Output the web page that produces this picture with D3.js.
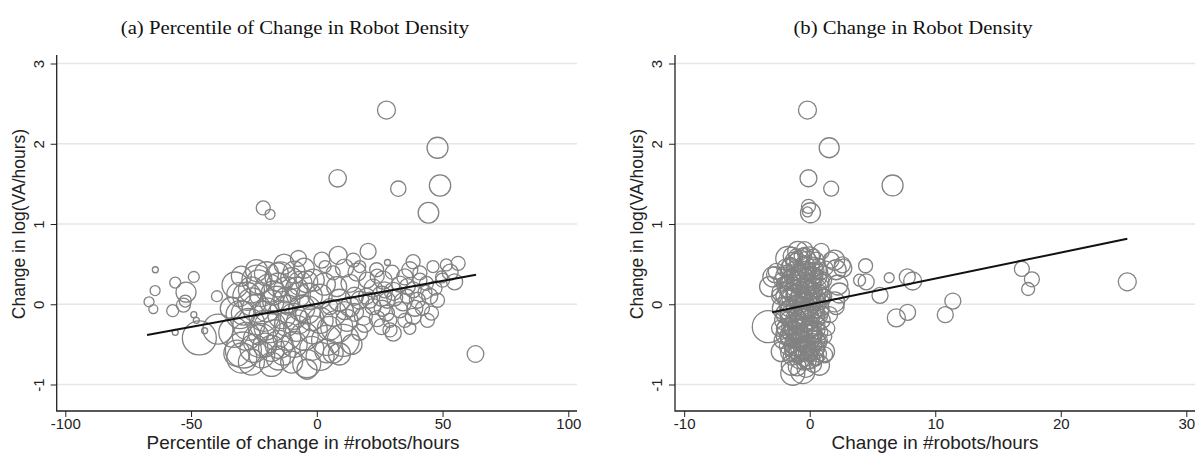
<!DOCTYPE html>
<html>
<head>
<meta charset="utf-8">
<script src="https://cdn.jsdelivr.net/npm/d3@7"></script>
<style>
  body { margin: 0; background: #fff; }
  svg { display: block; }
</style>
</head>
<body>
<svg id="chart" width="1195" height="453"></svg>
<script>
// tick values
const yTicks = [-1, 0, 1, 2, 3];
const xTicksA = [-100, -50, 0, 50, 100];
const xTicksB = [-10, 0, 10, 20, 30];

const titles = ['(a) Percentile of Change in Robot Density', '(b) Change in Robot Density'];
const xTitles = ['Percentile of change in #robots/hours', 'Change in #robots/hours'];
const yTitle = 'Change in log(VA/hours)';

// panel (a): [percentile of change, change in log(VA/hours), weight]
const pointsA = [
  [27.7, 2.42, 81], [48.0, 1.95, 110], [8.3, 1.57, 76], [32.4, 1.44, 59], [49.0, 1.48, 114],
  [44.4, 1.14, 106], [-21.3, 1.20, 49], [-18.6, 1.12, 25], [28.1, 0.52, 9], [63.1, -0.62, 69],
  [-3.9, -0.81, 100],
  [-64.2, 0.43, 9], [-64.3, 0.17, 25], [-66.7, 0.03, 25], [-65, -0.06, 20], [-56.3, 0.27, 30],
  [-48.9, 0.34, 30], [-52, 0.15, 100], [-52.3, 0.04, 36], [-53, -0.01, 49], [-57.3, -0.08, 36],
  [-48.9, -0.13, 9], [-47.9, -0.2, 9], [-56.3, -0.35, 9], [-44.6, -0.33, 9], [-46.7, -0.42, 289],
  [-39.7, 0.1, 30], [-39.3, -0.31, 225],
  [-32.5, 0.24, 169], [-30.5, -0.13, 196], [-29.2, -0.57, 324], [-23.2, 0.28, 144], [-15.3, 0.24, 144],
  [-15.3, 0.39, 100], [-10, 0.32, 121], [-7.3, 0.12, 144], [-20.6, -0.26, 225], [-16.6, -0.38, 225],
  [-20.6, -0.51, 144], [-25.8, 0.03, 196], [-13.9, -0.13, 196], [-29.8, -0.67, 225], [-21.9, -0.63, 169],
  [-15.3, -0.67, 144], [-7.3, -0.22, 144], [-7.3, 0.57, 64], [-17.9, 0.03, 144], [-11.3, -0.01, 100],
  [-23.2, -0.38, 100],
  [-23.8, 0.3, 225], [-14.6, 0.34, 225], [-6.7, 0.26, 144], [-18.6, -0.28, 256], [-22.5, -0.45, 289],
  [-11.9, -0.4, 196], [-1.4, -0.32, 196], [6.5, -0.11, 169], [-29.2, -0.11, 144], [-27.8, 0.1, 196],
  [-11.9, 0.05, 169], [-17.3, 0.14, 144], [-31.8, -0.61, 169], [-13.3, -0.61, 144], [-19.9, -0.07, 144],
  [-9.3, -0.15, 169],
  [-33, -0.35, 225], [-27, -0.25, 256], [-24, -0.05, 196], [-19, 0.2, 196], [-12, 0.18, 169],
  [-9, 0.4, 121], [-5, 0.45, 100], [-3, 0.1, 169], [-26, 0.18, 169], [-21, -0.15, 225],
  [-15, -0.5, 196], [-9, -0.5, 169], [-5, -0.4, 196], [-25, -0.55, 196], [-18, -0.75, 144],
  [-10, -0.72, 121], [-34, -0.05, 121], [-30, 0.35, 100], [-16, 0.05, 196], [-6, -0.05, 169],
  [-31, 0.12, 144], [-28, -0.4, 196], [-24, 0.42, 121], [-20, 0.38, 144], [-13, 0.5, 100],
  [-8, -0.3, 169], [-2, -0.55, 144], [-26, -0.72, 169], [-12, -0.25, 144], [-18, -0.55, 169],
  [-4, 0.28, 121], [-2, -0.18, 144], [-22, 0.12, 144], [-8, 0.2, 121],
  [8.5, 0.61, 81], [20.4, 0.66, 64], [3.3, 0.47, 36], [14.5, 0.55, 49], [17.1, 0.47, 36],
  [38.3, 0.53, 49], [37, 0.43, 64], [46.2, 0.47, 36], [51.5, 0.49, 36], [56.2, 0.51, 49],
  [54.8, 0.28, 64], [49.6, 0.34, 36], [43.6, 0.26, 49], [44.9, 0.1, 64], [45.6, -0.11, 49],
  [38.3, -0.15, 64], [34.3, 0.03, 81], [30.4, 0.16, 81], [26.4, 0.3, 81], [22.4, 0.2, 81],
  [22.4, -0.03, 64], [27.7, -0.11, 64], [25.8, -0.28, 64], [29.1, -0.32, 49], [18.5, -0.15, 81],
  [13.2, -0.03, 100], [13.2, 0.26, 81], [7.9, 0.22, 100], [6.5, 0.39, 49], [1.3, 0.1, 144],
  [-1.4, 0.3, 121], [-4, -0.07, 196], [1.3, -0.2, 169], [7.9, -0.28, 256], [10.5, -0.45, 256],
  [3.9, -0.45, 225], [1.3, -0.65, 196], [-4, -0.74, 196], [6.5, -0.61, 100], [5.2, -0.03, 64],
  [19.8, 0.1, 64], [38.3, 0.18, 64], [41, 0.39, 49], [35, 0.34, 64], [25.8, 0.1, 100],
  [33, -0.07, 64], [17.1, 0.05, 81], [23.8, 0.43, 49],
  [28, 0.05, 64], [35, -0.2, 49], [40, 0.05, 64], [42, -0.05, 49], [47, 0.2, 49],
  [30, 0.4, 49], [36, 0.22, 64], [24, -0.18, 64], [20, 0.3, 64], [15, 0.1, 81],
  [11, -0.08, 81], [17, -0.35, 64], [30.4, -0.36, 64],
  [3, 0.25, 121], [5, -0.3, 144], [9, 0.05, 121], [12, -0.2, 121], [4, -0.58, 144],
  [9, -0.62, 121], [14, -0.5, 100], [16, 0.4, 81], [11, 0.45, 81], [2, 0.55, 64],
  [21, 0.05, 64], [26, -0.05, 64], [31, 0.08, 64], [36, 0.1, 49], [39, -0.05, 64],
  [43, 0.15, 49], [48, 0.05, 49], [50, 0.3, 49], [33, 0.25, 64], [27, 0.18, 64],
  [29, -0.2, 49], [37, -0.3, 36], [44, -0.2, 49], [24, 0.35, 49], [41, 0.3, 49],
  [53, 0.4, 64], [19, -0.25, 64], [15, -0.1, 81]
];

// panel (b): [change in #robots/hours, change in log(VA/hours), weight]
const pointsB = [
  [-0.18, 2.42, 81], [1.55, 1.95, 100], [-0.1, 1.57, 72], [1.71, 1.44, 56], [6.6, 1.48, 110],
  [-0.1, 1.22, 49], [0.06, 1.14, 100], [-0.18, 1.15, 25],
  [4.45, 0.48, 49], [4.5, 0.28, 64], [3.97, 0.3, 36], [6.33, 0.33, 25], [5.6, 0.11, 64],
  [7.77, 0.34, 64], [8.2, 0.29, 81], [6.9, -0.17, 81], [7.8, -0.1, 64], [2.1, 0.43, 100],
  [2.6, 0.49, 64], [2.36, 0.14, 100], [2.1, -0.03, 64], [11.4, 0.04, 64], [10.8, -0.13, 64],
  [16.9, 0.44, 56], [17.7, 0.31, 56], [17.4, 0.19, 42], [25.3, 0.28, 81],
  [-3.3, -0.28, 256], [-1.35, -0.86, 144], [1.18, -0.63, 64], [-2.94, 0.34, 100], [-2.67, 0.41, 64],
  [-0.41, 0.68, 64], [0.92, 0.66, 64], [1.7, 0.55, 64], [-2.8, 0.37, 64], [-3.2, 0.22, 100],
  [-1.75, 0.57, 144], [-0.95, 0.66, 100], [-0.02, 0.59, 100], [1.98, 0.55, 100], [2.64, 0.45, 81],
  [2.24, 0.24, 100], [1.98, 0.03, 100], [1.58, -0.13, 64], [1.44, -0.3, 49], [1.18, -0.59, 100],
  [0.78, -0.76, 100], [-0.55, -0.84, 144], [-1.47, -0.76, 100], [-2.27, -0.59, 100],
  [-2.0, 0.35, 81], [-1.5, 0.45, 100], [-1.0, 0.5, 121], [-0.4, 0.48, 100], [0.3, 0.45, 81],
  [0.8, 0.4, 64], [-2.2, 0.15, 100], [-1.6, 0.22, 144], [-1.0, 0.28, 121], [-0.5, 0.3, 144],
  [0.1, 0.25, 100], [0.6, 0.2, 81], [1.1, 0.3, 64], [-2.1, -0.05, 121], [-1.5, 0.05, 144],
  [-0.9, 0.1, 144], [-0.3, 0.08, 121], [0.3, 0.05, 100], [0.9, 0.1, 81], [-2.0, -0.2, 100],
  [-1.4, -0.15, 144], [-0.8, -0.1, 121], [-0.2, -0.18, 144], [0.4, -0.12, 100], [1.0, -0.2, 64],
  [-1.9, -0.38, 100], [-1.3, -0.35, 121], [-0.7, -0.3, 144], [-0.1, -0.35, 121], [0.5, -0.32, 81],
  [-1.7, -0.52, 81], [-1.1, -0.5, 121], [-0.5, -0.55, 100], [0.1, -0.5, 121], [0.7, -0.48, 64],
  [-1.4, -0.65, 81], [-0.8, -0.68, 100], [-0.2, -0.7, 81], [0.4, -0.65, 81],
  [-1.2, 0.38, 49], [-0.7, 0.18, 64], [-0.1, 0.38, 49], [0.5, 0.32, 49], [-1.8, 0.28, 49],
  [-1.2, -0.05, 64], [-0.6, -0.02, 81], [0.0, -0.05, 64], [-1.6, -0.28, 64], [-1.0, -0.25, 81],
  [-0.4, -0.25, 64], [0.2, -0.25, 49], [-1.3, -0.45, 64], [-0.8, -0.42, 81], [-0.3, -0.45, 64],
  [0.3, -0.42, 64], [-1.0, -0.6, 64], [-0.5, -0.62, 49], [0.0, -0.6, 64], [-1.6, 0.08, 64],
  [-0.3, 0.18, 81], [0.2, 0.12, 64], [-0.9, 0.4, 64], [-0.6, 0.6, 64], [0.3, 0.6, 49], [-1.3, 0.55, 64],
  [-1.9, 0.45, 81], [-1.5, 0.3, 100], [-1.1, 0.42, 100], [-0.7, 0.35, 121], [-0.3, 0.42, 81],
  [0.1, 0.35, 100], [0.5, 0.42, 64], [0.9, 0.28, 64], [-1.9, 0.1, 100], [-1.5, 0.18, 121],
  [-1.1, 0.12, 100], [-0.7, 0.05, 144], [-0.3, 0.2, 100], [0.1, 0.15, 121], [0.5, 0.08, 81],
  [0.9, 0.22, 64], [-1.9, -0.12, 100], [-1.5, -0.08, 121], [-1.1, -0.18, 100], [-0.7, -0.15, 144],
  [-0.3, -0.05, 121], [0.1, -0.12, 100], [0.5, -0.18, 81], [0.9, -0.05, 64], [-1.8, -0.3, 100],
  [-1.5, -0.4, 121], [-1.1, -0.32, 121], [-0.7, -0.45, 100], [-0.3, -0.32, 144], [0.1, -0.38, 100],
  [0.5, -0.45, 81], [0.8, -0.35, 64], [-1.6, -0.6, 81], [-1.2, -0.55, 100], [-0.8, -0.58, 121],
  [-0.4, -0.65, 100], [0.0, -0.68, 100], [0.4, -0.58, 81], [0.7, -0.62, 64], [-1.0, -0.78, 81],
  [-0.3, -0.8, 81], [0.3, -0.75, 64], [-1.4, 0.6, 81], [-0.8, 0.55, 100], [-0.2, 0.55, 81],
  [0.5, 0.55, 64], [-2.4, 0.1, 64], [-2.4, -0.3, 64], [-2.3, 0.3, 49], [-2.2, -0.45, 64],
  [1.2, 0.1, 49], [1.2, -0.4, 49], [1.3, 0.45, 49], [-1.25, 0.2, 64], [-0.45, -0.1, 81],
  [0.25, 0.3, 64], [-0.95, -0.38, 81], [-0.15, -0.55, 64], [-1.7, -0.05, 64], [0.65, -0.25, 49],
  [-1.8, 0.4, 49], [-1.4, 0.35, 64], [-0.9, 0.32, 49], [-0.5, 0.38, 64], [0.0, 0.42, 49],
  [0.4, 0.36, 64], [0.8, 0.33, 49], [-1.7, 0.18, 64], [-1.3, 0.25, 49], [-0.8, 0.22, 64],
  [-0.4, 0.12, 49], [0.05, 0.2, 64], [0.45, 0.16, 49], [0.85, 0.15, 49], [-1.8, 0.0, 64],
  [-1.35, -0.02, 49], [-0.95, 0.02, 64], [-0.5, 0.05, 49], [-0.05, 0.02, 64], [0.35, -0.02, 49],
  [0.75, 0.02, 49], [-1.75, -0.18, 49], [-1.25, -0.22, 64], [-0.85, -0.2, 49], [-0.45, -0.16, 64],
  [0.0, -0.22, 49], [0.45, -0.08, 64], [0.85, -0.15, 49], [-1.65, -0.42, 64], [-1.2, -0.38, 49],
  [-0.75, -0.35, 64], [-0.35, -0.38, 49], [0.05, -0.3, 64], [0.45, -0.38, 49], [0.85, -0.45, 49],
  [-1.5, -0.52, 49], [-1.05, -0.45, 64], [-0.6, -0.5, 49], [-0.2, -0.5, 64], [0.25, -0.55, 49],
  [0.65, -0.55, 49], [-1.3, -0.62, 64], [-0.9, -0.65, 49], [-0.45, -0.72, 64], [0.1, -0.62, 49],
  [0.5, -0.68, 49], [-1.1, 0.6, 49], [-0.4, 0.62, 49], [0.2, 0.5, 49], [-1.6, 0.5, 49],
  [0.7, 0.5, 36], [-2.1, 0.25, 49], [-2.1, -0.3, 49], [1.05, -0.1, 36], [1.05, 0.05, 36]
];

// fitted lines, end points
const fitA = [[-67.5, -0.383], [63.3, 0.368]];
const fitB = [[-3.0, -0.1], [25.3, 0.815]];

const svg = d3.select('#chart');
const y = d3.scaleLinear().domain([-1, 3]).range([384.5, 63.5]);
const r = d3.scaleSqrt().domain([0, 289]).range([0, 17]);

const panels = [
  { x: d3.scaleLinear().domain([-100, 100]).range([65.3, 568.3]), ticks: xTicksA, pts: pointsA, fit: fitA,
    left: 56.7, right: 577, yTitleX: 25, title: titles[0], titleX: 295, xTitle: xTitles[0], xTitleX: 303 },
  { x: d3.scaleLinear().domain([-10, 30]).range([684.2, 1186.3]), ticks: xTicksB, pts: pointsB, fit: fitB,
    left: 675, right: 1195, yTitleX: 643.3, title: titles[1], titleX: 913, xTitle: xTitles[1], xTitleX: 935 }
];
const plotTop = 55, plotBottom = 411;

panels.forEach(function (p) {
  const g = svg.append('g');

  // grid lines
  g.selectAll('.grid').data(yTicks).enter().append('line')
    .attr('x1', p.left).attr('x2', p.right)
    .attr('y1', d => y(d)).attr('y2', d => y(d))
    .attr('stroke', '#e6e6e6').attr('stroke-width', 1.5);

  // bubbles
  g.selectAll('circle').data(p.pts).enter().append('circle')
    .attr('cx', d => p.x(d[0]))
    .attr('cy', d => y(d[1]))
    .attr('r', d => r(d[2]))
    .attr('fill', 'none')
    .attr('stroke', '#828282')
    .attr('stroke-width', 1.3);

  // fitted line
  g.append('path')
    .datum(p.fit)
    .attr('d', d3.line().x(d => p.x(d[0])).y(d => y(d[1])))
    .attr('stroke', '#111').attr('stroke-width', 2).attr('fill', 'none');

  // y axis
  const yAxis = g.append('g')
    .attr('transform', 'translate(' + p.left + ',0)')
    .call(d3.axisLeft(y).tickValues(yTicks).tickSize(6).tickSizeOuter(0).tickFormat(d => String(d)));
  yAxis.select('.domain').remove();
  yAxis.selectAll('line').attr('stroke', '#222');
  yAxis.selectAll('text')
    .attr('x', 0).attr('y', -13).attr('dy', 0)
    .attr('transform', 'rotate(-90)')
    .style('text-anchor', 'middle')
    .style('font-family', 'Liberation Sans, Arial, sans-serif')
    .style('font-size', '15px').attr('fill', '#222');

  // x axis
  const xAxis = g.append('g')
    .attr('transform', 'translate(0,' + plotBottom + ')')
    .call(d3.axisBottom(p.x).tickValues(p.ticks).tickSize(6).tickSizeOuter(0).tickFormat(d => String(d)));
  xAxis.select('.domain').remove();
  xAxis.selectAll('line').attr('stroke', '#222');
  xAxis.selectAll('text')
    .attr('y', 18).attr('dy', 0)
    .style('font-family', 'Liberation Sans, Arial, sans-serif')
    .style('font-size', '15px').attr('fill', '#222');

  // axis lines
  g.append('path')
    .attr('d', 'M' + p.left + ',' + plotTop + 'V' + plotBottom + 'H' + p.right)
    .attr('fill', 'none').attr('stroke', '#222').attr('stroke-width', 1.3);

  // axis titles
  g.append('text')
    .attr('transform', 'translate(' + p.yTitleX + ',' + y(1) + ') rotate(-90)')
    .style('text-anchor', 'middle')
    .style('font-family', 'Liberation Sans, Arial, sans-serif')
    .style('font-size', '17.5px').attr('fill', '#222')
    .text(yTitle);

  g.append('text')
    .attr('transform', 'translate(' + p.xTitleX + ',449) scale(1.08,1)')
    .style('text-anchor', 'middle')
    .style('font-family', 'Liberation Sans, Arial, sans-serif')
    .style('font-size', '17.5px').attr('fill', '#222')
    .text(p.xTitle);

  // panel title
  g.append('text')
    .attr('transform', 'translate(' + p.titleX + ',34) scale(1.12,1)')
    .style('text-anchor', 'middle')
    .style('font-family', 'Liberation Serif, Times New Roman, serif')
    .style('font-size', '18.5px').attr('fill', '#111')
    .text(p.title);
});
</script>
</body>
</html>
